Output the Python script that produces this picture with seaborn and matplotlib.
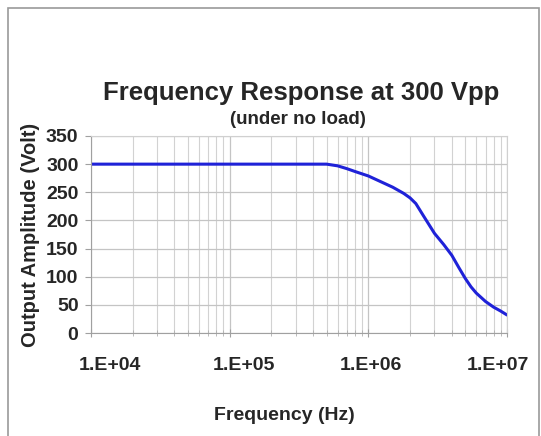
"""
Frequency response of the amplifier at 300 Vpp (no load).
"""

import matplotlib
matplotlib.use("Agg")
import matplotlib.pyplot as plt
import matplotlib.ticker as mticker
import matplotlib.transforms as mtransforms
import seaborn as sns
import pandas as pd
import numpy as np

# data
freq_hz = [1e4, 1e5, 5e5, 6e5, 7e5, 8e5, 1e6, 1.25e6, 1.5e6, 1.8e6, 2e6, 2.2e6, 2.5e6,
           3e6, 3.5e6, 4e6, 4.5e6, 5e6, 5.5e6, 6e6, 7e6, 8e6, 9e6, 1e7]
amplitude_v = [300, 300, 300, 297, 292, 287, 279, 268, 259, 248, 240, 230, 208,
               177, 157, 138, 116, 97, 82, 71, 56, 46, 39, 32]

x_ticks = [1e4, 1e5, 1e6, 1e7]
x_tick_labels = ["1.E+04", "1.E+05", "1.E+06", "1.E+07"]
y_ticks = [0, 50, 100, 150, 200, 250, 300, 350]

sns.set_theme(style="white")
plt.rcParams['font.family'] = ['Liberation Sans', 'DejaVu Sans']
plt.rcParams['font.weight'] = 'bold'

df = pd.DataFrame({'freq': freq_hz, 'amp': amplitude_v})

W, H = 541, 436
fig = plt.figure(figsize=(W / 100, H / 100), dpi=100)
ax = fig.add_axes([91 / W, 1 - 333 / H, (507 - 91) / W, (333 - 136) / H])

sns.lineplot(data=df, x='freq', y='amp', ax=ax, color='#1f22d8', linewidth=2.2)

ax.set_xscale('log')
ax.set_xlim(1e4, 1e7)
ax.set_ylim(0, 350)

ax.set_xticks(x_ticks)
ax.set_xticklabels(x_tick_labels)
ax.xaxis.set_minor_locator(mticker.LogLocator(base=10, subs=np.arange(2, 10)))
ax.xaxis.set_minor_formatter(mticker.NullFormatter())
ax.set_yticks(y_ticks)

ax.grid(True, which='major', color='#c4c4c4', linewidth=0.9)
ax.grid(True, which='minor', axis='x', color='#d2d2d2', linewidth=0.8)
ax.set_axisbelow(True)

for side in ['top', 'right']:
    ax.spines[side].set_color('#d0d0d0')
    ax.spines[side].set_linewidth(0.8)
for side in ['left', 'bottom']:
    ax.spines[side].set_color('#a0a0a0')
    ax.spines[side].set_linewidth(0.8)

ax.tick_params(axis='y', which='major', direction='out', length=4, width=0.8,
               color='#a0a0a0', labelsize=14, pad=5, left=True)
ax.tick_params(axis='x', which='major', direction='inout', length=6, width=0.8,
               color='#a0a0a0', labelsize=14, pad=14, bottom=True)
ax.tick_params(axis='x', which='minor', direction='inout', length=5, width=0.6,
               color='#b0b0b0', bottom=True)
for lbl in ax.get_xticklabels() + ax.get_yticklabels():
    lbl.set_fontweight('bold')

# the x labels sit a bit squeezed toward the middle in the original
label_shift_px = [19, 14, 3, -9]
for lbl, dx in zip(ax.get_xticklabels(), label_shift_px):
    lbl.set_transform(lbl.get_transform() +
                      mtransforms.ScaledTranslation(dx / 100, 0, fig.dpi_scale_trans))

ax.set_xlabel('Frequency (Hz)', fontsize=14, fontweight='bold', labelpad=22)
ax.xaxis.set_label_coords(284 / W, 1 - 415 / H, transform=fig.transFigure)
ax.xaxis.label.set_va('center')
ax.set_ylabel('Output Amplitude (Volt)', fontsize=14.5, fontweight='bold', labelpad=4)

fig.text(301 / W, 1 - 93 / H, 'Frequency Response at 300 Vpp', ha='center', va='center',
         fontsize=18.5, fontweight='bold')
fig.text(298 / W, 1 - 119 / H, '(under no load)', ha='center', va='center',
         fontsize=13.5, fontweight='bold')

# outer chart frame
frame = plt.Rectangle((8 / W, -0.05), (539 - 8) / W, 1.05 - 8 / H, transform=fig.transFigure,
                      fill=False, edgecolor='#9a9a9a', linewidth=1.2)
fig.add_artist(frame)

fig.savefig('out.png', dpi=100)
